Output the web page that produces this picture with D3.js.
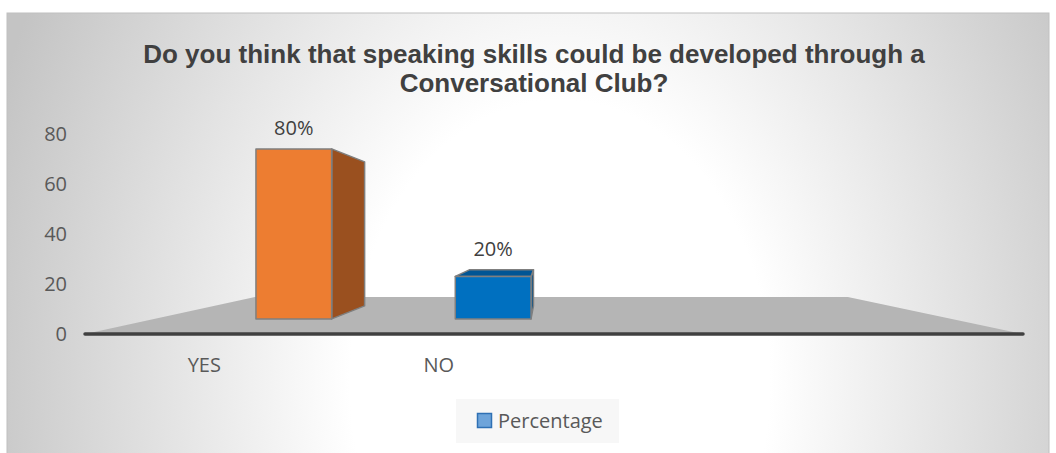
<!DOCTYPE html>
<html>
<head>
<meta charset="utf-8">
<script src="https://cdnjs.cloudflare.com/ajax/libs/d3/7.8.5/d3.min.js"></script>
<style>
  body { margin: 0; background: #ffffff; }
  svg { display: block; }
  text { font-family: "Open Sans", "Noto Sans", sans-serif; }
</style>
</head>
<body>
<svg id="chart" width="1056" height="453"></svg>
<script>
// ---------------- data ----------------
const categories = ["YES", "NO", "", ""];
const values = [80, 20, null, null];
const valueLabels = ["80%", "20%", "", ""];
const yTicks = [0, 20, 40, 60, 80];
const seriesName = "Percentage";
const titleLines = [
  "Do you think that speaking skills could be developed through a",
  "Conversational Club?"
];

// ---------------- styles ----------------
const frontColors = ["#ED7D31", "#0070C0"];
const sideColors  = ["#9A501F", "#004E87"];
const topColors   = ["#B8601F", "#005595"];

const svg = d3.select("#chart");
const W = 1056, H = 453;

// background gradient (elliptical, white near bottom centre)
const defs = svg.append("defs");
const grad = defs.append("radialGradient")
  .attr("id", "bg").attr("gradientUnits", "userSpaceOnUse")
  .attr("cx", 0).attr("cy", 0).attr("r", 1)
  .attr("gradientTransform", "translate(560,380) scale(600,800)");
grad.append("stop").attr("offset", "0").attr("stop-color", "#ffffff");
grad.append("stop").attr("offset", "0.35").attr("stop-color", "#ffffff");
grad.append("stop").attr("offset", "1").attr("stop-color", "#c4c4c4");

svg.append("rect").attr("x", 0).attr("y", 0).attr("width", W).attr("height", H).attr("fill", "#ffffff");
svg.append("rect").attr("x", 7).attr("y", 13).attr("width", 1042).attr("height", 445)
  .attr("fill", "url(#bg)").attr("stroke", "#c0c0c0").attr("stroke-width", 1);

// ---------------- title ----------------
svg.append("g").selectAll("text").data(titleLines).join("text")
  .attr("x", 534).attr("y", (d, i) => 63 + i * 29)
  .attr("text-anchor", "middle")
  .style("font-family", "'Liberation Sans', Arial, sans-serif")
  .style("font-weight", "bold").style("font-size", "26px")
  .attr("fill", "#404040")
  .text(d => d);

// ---------------- scales & projection ----------------
const x = d3.scaleBand().domain(d3.range(categories.length)).range([85, 1023]).padding(0);
const y = d3.scaleLinear().domain([0, 80]).range([334, 134]);

const VP = { x: 547, y: 233.5 };         // vanishing point
const floorDepth = 0.368, sFront = 0.15, sBack = 0.28;
const proj = (x0, y0, s) => [x0 + s * (VP.x - x0), y0 + s * (VP.y - y0)];
const poly = pts => pts.map(p => p.join(",")).join(" ");

// floor
const xr = x.range();
svg.append("polygon")
  .attr("points", poly([proj(xr[0], y(0), 0), proj(xr[1], y(0), 0), proj(xr[1], y(0), floorDepth), proj(xr[0], y(0), floorDepth)]))
  .attr("fill", "#b5b5b5");

// axis line
svg.append("line")
  .attr("x1", xr[0]).attr("x2", xr[1]).attr("y1", y(0)).attr("y2", y(0))
  .attr("stroke", "#404040").attr("stroke-width", 3.5).attr("stroke-linecap", "round");

// y axis
const yAxis = svg.append("g").attr("transform", `translate(${xr[0]},0)`)
  .call(d3.axisLeft(y).tickValues(yTicks).tickSize(0).tickPadding(18));
yAxis.select(".domain").remove();
yAxis.selectAll("text").style("font-size", "20px").style("font-family", "'Open Sans', sans-serif").attr("fill", "#595959");

// x axis labels
const xAxis = svg.append("g").attr("transform", `translate(2,${y(0)})`)
  .call(d3.axisBottom(x).tickFormat(i => categories[i]).tickSize(0).tickPadding(24));
xAxis.select(".domain").remove();
xAxis.selectAll("text").style("font-size", "20px").style("font-family", "'Open Sans', sans-serif").attr("fill", "#595959");

// ---------------- bars ----------------
const bw = x.bandwidth();
const barW = bw * 0.38;
const barData = values.map((v, i) => ({ v, i })).filter(d => d.v != null);

const bars = svg.append("g").selectAll("g").data(barData).join("g");
bars.each(function (d) {
  const g = d3.select(this);
  const cx = x(d.i) + bw * 0.5 + bw * 0.2;
  const xL = cx - barW / 2, xR = cx + barW / 2;
  const y0 = y(0), yv = y(d.v);
  const stroke = "#7f7f7f";
  if (xR < VP.x) {
    g.append("polygon")
      .attr("points", poly([proj(xR, y0, sFront), proj(xR, y0, sBack), proj(xR, yv, sBack), proj(xR, yv, sFront)]))
      .attr("fill", sideColors[d.i]).attr("stroke", stroke).attr("stroke-width", 1.5).attr("stroke-linejoin", "round");
  }
  if (yv > VP.y) {
    g.append("polygon")
      .attr("points", poly([proj(xL, yv, sFront), proj(xR, yv, sFront), proj(xR, yv, sBack), proj(xL, yv, sBack)]))
      .attr("fill", topColors[d.i]).attr("stroke", stroke).attr("stroke-width", 1.5).attr("stroke-linejoin", "round");
  }
  g.append("polygon")
    .attr("points", poly([proj(xL, y0, sFront), proj(xR, y0, sFront), proj(xR, yv, sFront), proj(xL, yv, sFront)]))
    .attr("fill", frontColors[d.i]).attr("stroke", stroke).attr("stroke-width", 1.5).attr("stroke-linejoin", "round");

  const ft = proj(cx, yv, sFront);
  const bt = proj(cx, yv, sBack);
  g.append("text")
    .attr("x", ft[0]).attr("y", Math.min(ft[1], bt[1]) - 14)
    .attr("text-anchor", "middle")
    .style("font-size", "20px").attr("fill", "#404040")
    .text(valueLabels[d.i]);
});

// ---------------- legend ----------------
const lg = svg.append("g").attr("transform", "translate(456,399)");
lg.append("rect").attr("width", 163).attr("height", 44).attr("fill", "#f7f7f7");
lg.append("rect").attr("x", 21.5).attr("y", 14.5).attr("width", 14).attr("height", 14)
  .attr("fill", "#6ea4da").attr("stroke", "#2f70b4").attr("stroke-width", 1.5);
lg.append("text").attr("x", 42).attr("y", 29)
  .style("font-size", "20px").attr("fill", "#595959").text(seriesName);
</script>
</body>
</html>
